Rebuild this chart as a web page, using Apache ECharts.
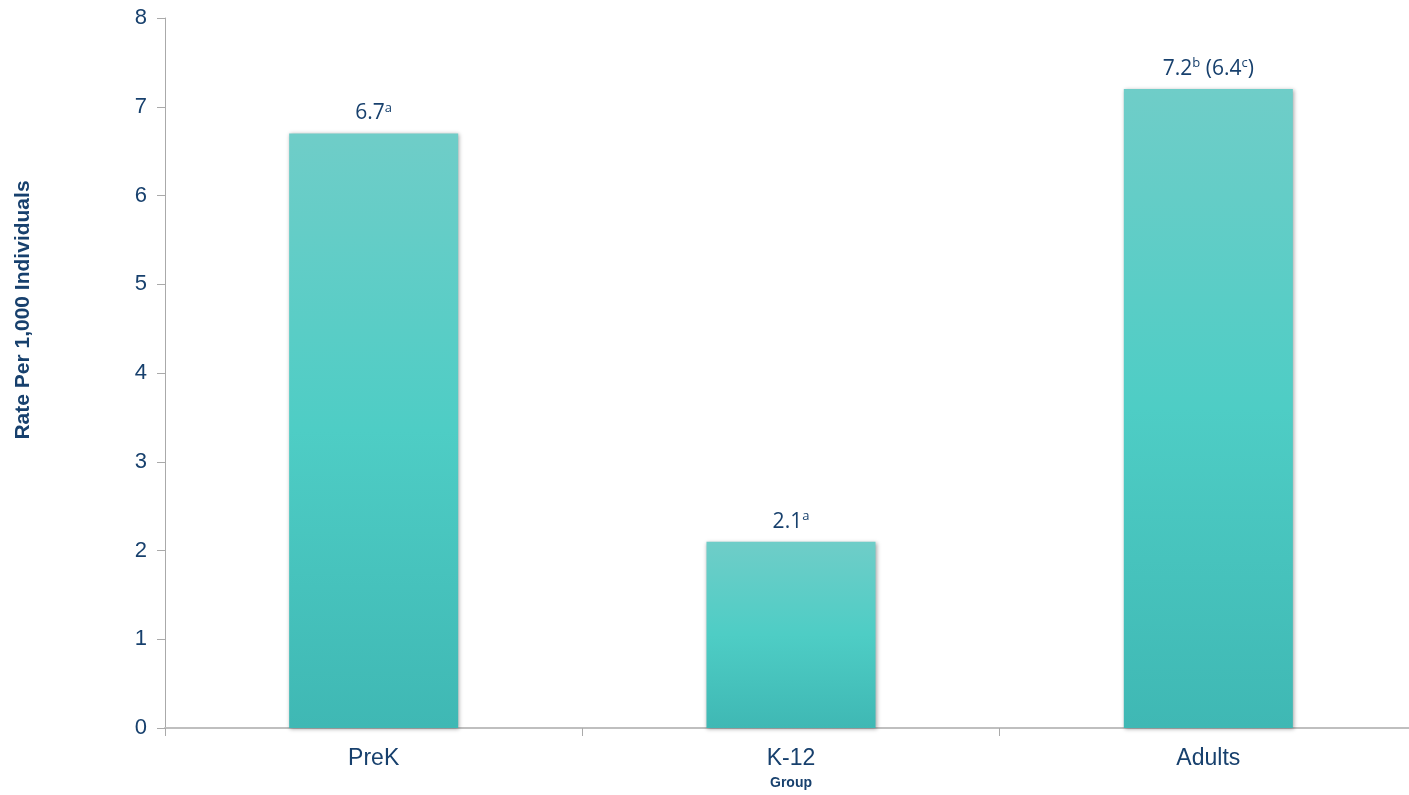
<!DOCTYPE html>
<html>
<head>
<meta charset="utf-8">
<script src="https://cdn.jsdelivr.net/npm/echarts@6/dist/echarts.min.js"></script>
<style>html,body{margin:0;padding:0;background:#fff;overflow:hidden;}#c{width:1425px;height:795px;}</style>
</head>
<body>
<div id="c"></div>
<script>
const categories = ['PreK', 'K-12', 'Adults'];
const values = [6.7, 2.1, 7.2];
const labelMain = ['6.7', '2.1', '7.2'];
const labelSup = ['a', 'a', 'b'];
const labelExtra = ['', '', ' (6.4{sup|c})'];
const yTicks = { min: 0, max: 8, interval: 1 };

const chart = echarts.init(document.getElementById('c'));
const dark = '#17406d';
chart.setOption({
  animation: false,
  grid: { left: 165, top: 18, width: 1252, height: 712 },
  graphic: [{
    type: 'text',
    x: 23, y: 310, rotation: Math.PI / 2,
    style: { text: 'Rate Per 1,000 Individuals', font: 'bold 21px "Liberation Sans", Arial', fill: dark, align: 'center', verticalAlign: 'middle' }
  }],
  xAxis: {
    type: 'category', data: categories,
    name: 'Group', nameLocation: 'middle', nameGap: 48,
    nameTextStyle: { fontFamily: 'Liberation Sans', fontWeight: 'bold', fontSize: 14, color: dark },
    axisLine: { lineStyle: { color: '#bfbfbf', width: 2 } },
    axisTick: { show: true, length: 8, lineStyle: { color: '#aaaaaa' } },
    axisLabel: { fontFamily: 'Liberation Sans', fontSize: 23, color: dark, margin: 19 }
  },
  yAxis: {
    type: 'value', min: yTicks.min, max: yTicks.max, interval: yTicks.interval,
    axisLine: { show: true, lineStyle: { color: '#aaaaaa', width: 1 } },
    axisTick: { show: true, length: 8, lineStyle: { color: '#aaaaaa' } },
    splitLine: { show: false },
    axisLabel: { fontFamily: 'Liberation Sans', fontSize: 22, color: dark, margin: 18 }
  },
  series: [{
    type: 'bar', data: values, barWidth: '40.5%',
    itemStyle: {
      color: new echarts.graphic.LinearGradient(0, 0, 0, 1, [
        { offset: 0, color: '#6fcdc8' },
        { offset: 0.5, color: '#4ecdc5' },
        { offset: 1, color: '#3fb8b4' }
      ]),
      shadowColor: 'rgba(0,0,0,0.35)', shadowBlur: 4, shadowOffsetX: 1, shadowOffsetY: 1
    },
    label: {
      show: true, position: 'top', distance: 8,
      formatter: p => labelMain[p.dataIndex] + '{sup|' + labelSup[p.dataIndex] + '}' + labelExtra[p.dataIndex],
      fontFamily: '"Open Sans"', fontSize: 21, color: dark,
      rich: {
        sup: { fontFamily: '"Open Sans"', fontSize: 13, color: dark, verticalAlign: 'top', padding: [0, 0, 11, 0] }
      }
    }
  }]
});
</script>
</body>
</html>
